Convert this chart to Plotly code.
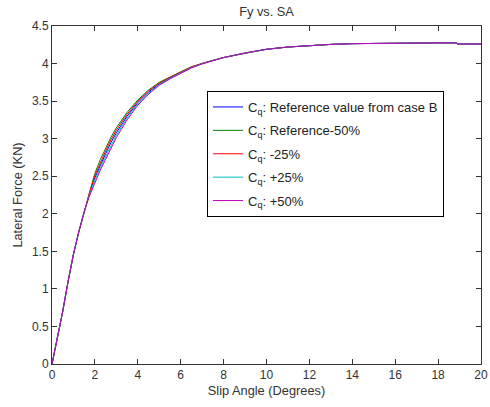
import plotly.graph_objects as go

slip_angle = [0, 0.25, 0.5, 0.75, 1.0, 1.25, 1.5, 1.75, 2.0, 2.25, 2.5, 2.75, 3.0, 3.5,
              4.0, 4.5, 5.0, 5.5, 6.0, 6.5, 7.0, 7.5, 8.0, 9.0, 10.0, 11.0, 12.0, 13.0,
              14.0, 15.0, 16.0, 17.0, 18.0, 18.85, 18.9, 20.0]

fy_ref = [0, 0.34, 0.70, 1.10, 1.46, 1.76, 2.03, 2.27, 2.48, 2.65, 2.80, 2.95, 3.08, 3.30,
          3.48, 3.62, 3.73, 3.81, 3.88, 3.95, 4.00, 4.04, 4.08, 4.14, 4.19, 4.22, 4.24, 4.255,
          4.265, 4.27, 4.275, 4.275, 4.275, 4.275, 4.262, 4.26]
fy_m50 = [0, 0.34, 0.70, 1.10, 1.46, 1.76, 2.03, 2.30, 2.54, 2.72, 2.875, 3.02, 3.145, 3.35,
          3.515, 3.648, 3.75, 3.825, 3.89, 3.958, 4.005, 4.043, 4.08, 4.14, 4.19, 4.22, 4.24, 4.255,
          4.265, 4.27, 4.275, 4.275, 4.275, 4.275, 4.262, 4.26]
fy_m25 = [0, 0.34, 0.70, 1.10, 1.46, 1.76, 2.03, 2.285, 2.51, 2.685, 2.838, 2.985, 3.113, 3.325,
          3.498, 3.634, 3.74, 3.818, 3.885, 3.954, 4.003, 4.042, 4.08, 4.14, 4.19, 4.22, 4.24, 4.255,
          4.265, 4.27, 4.275, 4.275, 4.275, 4.275, 4.262, 4.26]
fy_p25 = [0, 0.34, 0.70, 1.10, 1.46, 1.76, 2.03, 2.255, 2.45, 2.615, 2.763, 2.915, 3.048, 3.275,
          3.463, 3.606, 3.72, 3.803, 3.875, 3.946, 3.998, 4.039, 4.08, 4.14, 4.19, 4.22, 4.24, 4.255,
          4.265, 4.27, 4.275, 4.275, 4.275, 4.275, 4.262, 4.26]
fy_p50 = [0, 0.34, 0.70, 1.10, 1.46, 1.76, 2.03, 2.24, 2.42, 2.58, 2.725, 2.88, 3.015, 3.25,
          3.445, 3.592, 3.71, 3.795, 3.87, 3.942, 3.995, 4.037, 4.08, 4.14, 4.19, 4.22, 4.24, 4.255,
          4.265, 4.27, 4.275, 4.275, 4.275, 4.275, 4.262, 4.26]

series_names = ["C<sub>q</sub>: Reference value from case B",
                "C<sub>q</sub>: Reference-50%",
                "C<sub>q</sub>: -25%",
                "C<sub>q</sub>: +25%",
                "C<sub>q</sub>: +50%"]
series_values = [fy_ref, fy_m50, fy_m25, fy_p25, fy_p50]
series_colors = ["#0000ff", "#008000", "#ff0000", "#00bfbf", "#bf00bf"]

x_ticks = list(range(0, 21, 2))
y_ticks = [0, 0.5, 1, 1.5, 2, 2.5, 3, 3.5, 4, 4.5]

fig = go.Figure()
for i, (name, vals, col) in enumerate(zip(series_names, series_values, series_colors)):
    fig.add_trace(go.Scatter(x=slip_angle, y=vals, mode="lines", name=name,
                             line=dict(color=col, width=1),
                             legendgroup=str(i)))

fam = "Liberation Sans, Arial, sans-serif"
font = dict(family=fam, size=12, color="#333333")
title_font = dict(family=fam, size=12.8, color="#333333")
axis_common = dict(showgrid=False, zeroline=False, showline=True, linecolor="#333333",
                   linewidth=1, mirror="ticks", ticks="inside", ticklen=5,
                   tickcolor="#333333", tickfont=font, automargin=False)

fig.update_layout(
    width=490, height=407,
    margin=dict(l=52, r=9, t=26, b=43),
    paper_bgcolor="white", plot_bgcolor="white",
    font=font,
    title=dict(text="Fy vs. SA", x=0.5 * (52 + 481) / 490, xanchor="center",
               y=1 - 12 / 407, yanchor="middle", font=title_font),
    xaxis=dict(range=[0, 20], tickvals=x_ticks,
               title=dict(text="Slip Angle (Degrees)", standoff=4, font=title_font), **axis_common),
    yaxis=dict(range=[0, 4.5], tickvals=y_ticks,
               title=dict(text="Lateral Force (KN)", standoff=6, font=title_font), **axis_common),
    legend=dict(x=(207 - 52) / 429, y=(364 - 91) / 338, xanchor="left", yanchor="top",
                bordercolor="black", borderwidth=1, bgcolor="white",
                font=dict(family=fam, size=13, color="#222222"),
                traceorder="grouped", tracegroupgap=3.5),
    showlegend=True,
)

fig.write_html("out.html")
